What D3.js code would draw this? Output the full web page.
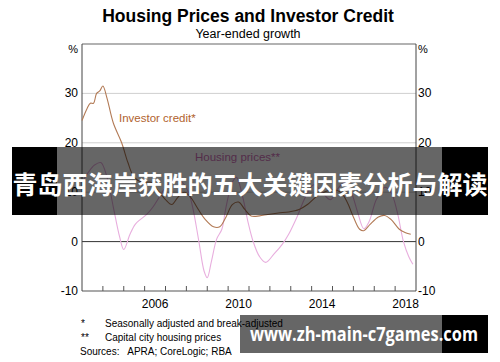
<!DOCTYPE html>
<html>
<head>
<meta charset="utf-8">
<script src="https://cdn.jsdelivr.net/npm/d3@7"></script>
<style>
  body { margin: 0; background: #fff; }
  svg { font-family: "Liberation Sans", Arial, sans-serif; display: block; }
</style>
</head>
<body>
<div id="chart"></div>
<script>
// Year-ended growth, %
var creditYears = [2003.0, 2003.25, 2003.4, 2003.55, 2003.7, 2003.85, 2004.0, 2004.2, 2004.5, 2004.9,
  2005.2, 2005.5, 2005.9, 2006.3, 2006.7, 2007.0, 2007.3, 2007.6, 2007.9, 2008.2, 2008.5, 2008.9,
  2009.3, 2009.6, 2009.9, 2010.2, 2010.5, 2010.8, 2011.1, 2011.5, 2011.9, 2012.4, 2012.9, 2013.4,
  2013.8, 2014.2, 2014.6, 2015.0, 2015.4, 2015.7, 2016.0, 2016.3, 2016.5, 2016.8, 2017.2, 2017.5,
  2017.8, 2018.2, 2018.5, 2018.75];
var creditValues = [24.5, 27, 28, 28, 30, 30.5, 31.5, 29, 24, 20,
  16, 13, 12, 12, 10, 8.5, 7.5, 9, 10, 9, 7, 4.5,
  3, 3, 5, 7.5, 8, 6.5, 5.2, 5.2, 5.5, 5.8, 6, 6.5,
  7.5, 9, 10, 10.5, 10, 8, 5, 2.5, 2.2, 3.5, 5, 5.3,
  4.5, 2.5, 1.8, 1.5];

var priceYears = [2003.0, 2003.3, 2003.6, 2003.9, 2004.2, 2004.5, 2004.8, 2005.0, 2005.3, 2005.55,
  2005.8, 2006.1, 2006.4, 2006.7, 2007.0, 2007.4, 2007.8, 2008.1, 2008.3, 2008.6, 2008.85, 2009.0,
  2009.2, 2009.45, 2009.7, 2009.9, 2010.2, 2010.4, 2010.7, 2010.95, 2011.2, 2011.5, 2011.8, 2012.2,
  2012.6, 2012.9, 2013.3, 2013.7, 2014.1, 2014.5, 2014.9, 2015.3, 2015.6, 2015.9, 2016.2, 2016.5,
  2016.75, 2017.1, 2017.5, 2017.8, 2018.1, 2018.4, 2018.65, 2018.85];
var priceValues = [12, 14, 15.5, 16, 13, 7, 1, -1.6, 1.5, 3.5,
  4.5, 5.5, 7, 9, 11, 12.5, 12, 10, 7, 0, -6, -7.3,
  -4, 0.5, 2.5, 7, 12, 13, 9, 4, 0, -3, -4.2, -2.5,
  -0.5, 1.5, 5, 9, 11.5, 10, 8.5, 11, 12, 10, 6, 2.6,
  4, 8.5, 11, 10, 6, 0, -3, -4.6];

var yTicks = [-10, 0, 10, 20, 30];
var yearLabels = [2006, 2010, 2014, 2018];
var footnotes = [["*", "Seasonally adjusted and break-adjusted"], ["**", "Capital city housing prices"]];

var width = 500, height = 362;
var margin = { top: 44, right: 84, bottom: 71, left: 82 };

var svg = d3.select("#chart").append("svg")
  .attr("width", width)
  .attr("height", height);

var x = d3.scaleLinear().domain([2003, 2019]).range([margin.left, width - margin.right]);
var y = d3.scaleLinear().domain([-10, 40]).range([height - margin.bottom, margin.top]);

// Titles
svg.append("text").attr("x", 248).attr("y", 22).attr("text-anchor", "middle")
  .style("font-weight", "bold").style("font-size", "17.5px").text("Housing Prices and Investor Credit");
svg.append("text").attr("x", 248).attr("y", 38).attr("text-anchor", "middle")
  .style("font-size", "12.5px").text("Year-ended growth");

// Gridlines
svg.selectAll(".grid").data(yTicks.filter(function(d) { return d > 0; }))
  .enter().append("line")
  .attr("x1", x(2003)).attr("x2", x(2019))
  .attr("y1", function(d) { return y(d); }).attr("y2", function(d) { return y(d); })
  .attr("stroke", "#cfcfcf").attr("stroke-width", 1);

// Frame
svg.append("line").attr("x1", x(2003)).attr("x2", x(2019)).attr("y1", y(40)).attr("y2", y(40))
  .attr("stroke", "#999").attr("stroke-width", 1.5);
svg.append("line").attr("x1", x(2003)).attr("x2", x(2019)).attr("y1", y(0)).attr("y2", y(0))
  .attr("stroke", "#333").attr("stroke-width", 1);
svg.append("line").attr("x1", x(2003)).attr("x2", x(2019)).attr("y1", y(-10)).attr("y2", y(-10))
  .attr("stroke", "#555").attr("stroke-width", 1.2);
[2003, 2019].forEach(function(yr) {
  svg.append("line").attr("x1", x(yr)).attr("x2", x(yr)).attr("y1", y(40)).attr("y2", y(-10))
    .attr("stroke", "#444").attr("stroke-width", 1);
});

// Year ticks
svg.selectAll(".xtick").data(d3.range(2004, 2019))
  .enter().append("line")
  .attr("x1", function(d) { return x(d); }).attr("x2", function(d) { return x(d); })
  .attr("y1", y(-10)).attr("y2", y(-10) - 5)
  .attr("stroke", "#555").attr("stroke-width", 1);

svg.selectAll(".xlab").data(yearLabels)
  .enter().append("text")
  .attr("x", function(d) { return x(d + 0.5); })
  .attr("y", y(-10) + 17)
  .attr("text-anchor", "middle")
  .style("font-size", "12px")
  .text(function(d) { return d; });

// Y labels, both sides
svg.selectAll(".ylabL").data(yTicks)
  .enter().append("text")
  .attr("x", x(2003) - 4).attr("y", function(d) { return y(d) + 4; })
  .attr("text-anchor", "end").style("font-size", "12px")
  .text(function(d) { return d; });
svg.selectAll(".ylabR").data(yTicks)
  .enter().append("text")
  .attr("x", x(2019) + 2).attr("y", function(d) { return y(d) + 4; })
  .style("font-size", "12px")
  .text(function(d) { return d; });
svg.append("text").attr("x", x(2003) - 4).attr("y", y(40) + 9).attr("text-anchor", "end")
  .style("font-size", "11px").text("%");
svg.append("text").attr("x", x(2019) + 2).attr("y", y(40) + 9)
  .style("font-size", "11px").text("%");

// Lines
var line = d3.line()
  .x(function(d) { return x(d[0]); })
  .y(function(d) { return y(d[1]); })
  .curve(d3.curveCatmullRom.alpha(0.5));

svg.append("path")
  .datum(d3.zip(priceYears, priceValues))
  .attr("d", line).attr("fill", "none")
  .attr("stroke", "#e8aede").attr("stroke-width", 1.1);
svg.append("path")
  .datum(d3.zip(creditYears, creditValues))
  .attr("d", line).attr("fill", "none")
  .attr("stroke", "#b27a55").attr("stroke-width", 1.1);

svg.append("text").attr("x", 119).attr("y", 122)
  .style("font-size", "11.5px").attr("fill", "#b0622e").text("Investor credit*");
svg.append("text").attr("x", 195).attr("y", 161)
  .style("font-size", "11.5px").attr("fill", "#d070b8").text("Housing prices**");

// Footnotes
svg.selectAll(".fn").data(footnotes)
  .enter().append("g")
  .each(function(d, i) {
    var g = d3.select(this);
    g.append("text").attr("x", 81).attr("y", 327 + i * 14).style("font-size", "10px").text(d[0]);
    g.append("text").attr("x", 105).attr("y", 327 + i * 14).style("font-size", "10px").text(d[1]);
  });
svg.append("text").attr("x", 80).attr("y", 355).style("font-size", "10px")
  .attr("xml:space", "preserve").text("Sources:   APRA; CoreLogic; RBA");

// Overlaid banner
svg.append("rect").attr("x", 12).attr("y", 147).attr("width", 45).attr("height", 68).attr("fill", "#000");
svg.append("rect").attr("x", 57).attr("y", 147).attr("width", 385).attr("height", 68).attr("fill", "rgba(0,0,0,0.6)");
svg.append("rect").attr("x", 442).attr("y", 147).attr("width", 46).attr("height", 68).attr("fill", "#000");
svg.append("text").attr("x", 250).attr("y", 194).attr("text-anchor", "middle")
  .attr("textLength", 475).attr("lengthAdjust", "spacingAndGlyphs")
  .style("font-family", "'Noto Sans CJK SC', sans-serif").style("font-weight", "bold")
  .style("font-size", "25px").attr("fill", "#fff")
  .text("青岛西海岸获胜的五大关键因素分析与解读");

// Watermark
svg.append("rect").attr("x", 240).attr("y", 315).attr("width", 202).attr("height", 38).attr("fill", "rgba(0,0,0,0.6)");
svg.append("rect").attr("x", 442).attr("y", 315).attr("width", 46).attr("height", 38).attr("fill", "#000");
svg.append("text").attr("x", 250).attr("y", 341)
  .attr("textLength", 228).attr("lengthAdjust", "spacingAndGlyphs")
  .style("font-family", "'Open Sans', 'DejaVu Sans', sans-serif").style("font-weight", "bold")
  .style("font-size", "19px").attr("fill", "#fff")
  .text("www.zh-main-c7games.com");
</script>
</body>
</html>
